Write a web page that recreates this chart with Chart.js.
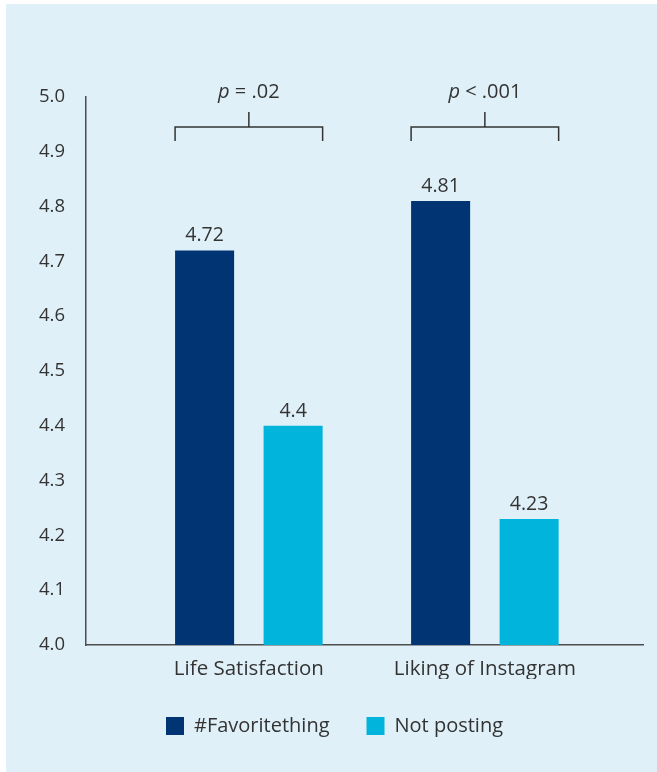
<!DOCTYPE html>
<html>
<head>
<meta charset="utf-8">
<script src="https://cdn.jsdelivr.net/npm/chart.js@4.4.0/dist/chart.umd.min.js"></script>
<style>
    html, body { margin: 0; padding: 0; background: #ffffff; }
    #panel {
        position: absolute; left: 6px; top: 4px;
        width: 651px; height: 768px;
        background: #dff0f8;
    }
</style>
</head>
<body>
<div id="panel"><canvas id="chart" width="651" height="768"></canvas></div>
<script>
// categories and values
const categories = ["Life Satisfaction", "Liking of Instagram"];
const seriesNames = ["#Favoritething", "Not posting"];
const favoriteValues = [4.72, 4.81];
const notPostingValues = [4.4, 4.23];
const pLabels = ["= .02", "< .001"];
const yTicks = [4.0, 4.1, 4.2, 4.3, 4.4, 4.5, 4.6, 4.7, 4.8, 4.9, 5.0];

const textColor = "#333333";
const fontFamily = "'Open Sans', sans-serif";

// bars sit at x = 1, 2 on a linear axis so the groups can be placed like the original
const toPoints = function (values) {
    return values.map(function (v, i) { return { x: i + 1, y: v }; });
};

// value labels above bars
const valueLabels = {
    id: "valueLabels",
    afterDatasetsDraw: function (chart) {
        const ctx = chart.ctx;
        ctx.save();
        ctx.font = "19.5px " + fontFamily;
        ctx.fillStyle = textColor;
        ctx.textAlign = "center";
        ctx.textBaseline = "bottom";
        chart.data.datasets.forEach(function (ds, di) {
            chart.getDatasetMeta(di).data.forEach(function (bar, i) {
                ctx.fillText(String(ds.data[i].y), bar.x, bar.y - 5);
            });
        });
        ctx.restore();
    }
};

// significance brackets over each pair of bars
const brackets = {
    id: "brackets",
    afterDatasetsDraw: function (chart) {
        const ctx = chart.ctx;
        const top = chart.chartArea.top;
        const a = chart.getDatasetMeta(0).data;
        const b = chart.getDatasetMeta(1).data;
        ctx.save();
        ctx.strokeStyle = "#333333";
        ctx.lineWidth = 1.5;
        a.forEach(function (bar, i) {
            const left = bar.x - bar.width / 2;
            const right = b[i].x + b[i].width / 2;
            const mid = (left + right) / 2;
            const yLine = top + 30;
            ctx.beginPath();
            ctx.moveTo(left, top + 44);
            ctx.lineTo(left, yLine);
            ctx.lineTo(right, yLine);
            ctx.lineTo(right, top + 44);
            ctx.moveTo(mid, yLine);
            ctx.lineTo(mid, top + 15);
            ctx.stroke();

            // "p" in italics, rest upright
            ctx.fillStyle = textColor;
            ctx.textBaseline = "alphabetic";
            ctx.textAlign = "left";
            const pFont = "italic 20px " + fontFamily;
            const restFont = "20px " + fontFamily;
            const rest = " " + pLabels[i];
            ctx.font = pFont;
            const wp = ctx.measureText("p").width;
            ctx.font = restFont;
            const wr = ctx.measureText(rest).width;
            const x0 = mid - (wp + wr) / 2;
            ctx.font = pFont;
            ctx.fillText("p", x0, top + 1);
            ctx.font = restFont;
            ctx.fillText(rest, x0 + wp, top + 1);
        });
        ctx.restore();
    }
};

const ctx = document.getElementById("chart").getContext("2d");
new Chart(ctx, {
    type: "bar",
    data: {
        datasets: [{
            label: seriesNames[0],
            data: toPoints(favoriteValues),
            backgroundColor: "#003473"
        }, {
            label: seriesNames[1],
            data: toPoints(notPostingValues),
            backgroundColor: "#00b4dc"
        }]
    },
    options: {
        responsive: false,
        animation: false,
        categoryPercentage: 0.75,
        barPercentage: 0.667,
        layout: { padding: { left: 20, right: 14, top: 93, bottom: 26 } },
        plugins: {
            legend: {
                position: "bottom",
                labels: {
                    boxWidth: 18,
                    boxHeight: 18,
                    padding: 37,
                    color: textColor,
                    font: { family: fontFamily, size: 20 }
                }
            },
            tooltip: { enabled: false }
        },
        scales: {
            x: {
                type: "linear",
                offset: false,
                min: 0.31,
                max: 2.67,
                grid: { display: false, drawTicks: false, offset: false },
                border: { display: true, color: "#4d4d4d", width: 1.5 },
                afterBuildTicks: function (scale) {
                    scale.ticks = categories.map(function (c, i) { return { value: i + 1 }; });
                },
                afterFit: function (scale) { scale.height = 34; },
                ticks: {
                    padding: 12,
                    color: textColor,
                    font: { family: fontFamily, size: 20.5 },
                    callback: function (v) { return categories[Math.round(v) - 1]; }
                }
            },
            y: {
                min: 4.0,
                max: 5.0,
                grid: { display: false, drawTicks: false },
                border: { display: true, color: "#4d4d4d", width: 1.5 },
                afterBuildTicks: function (scale) {
                    scale.ticks = yTicks.map(function (v) { return { value: v }; });
                },
                afterFit: function (scale) { scale.width = 60; },
                ticks: {
                    padding: 21,
                    color: textColor,
                    font: { family: fontFamily, size: 18.5 },
                    callback: function (v) { return Number(v).toFixed(1); }
                }
            }
        }
    },
    plugins: [valueLabels, brackets]
});
</script>
</body>
</html>
